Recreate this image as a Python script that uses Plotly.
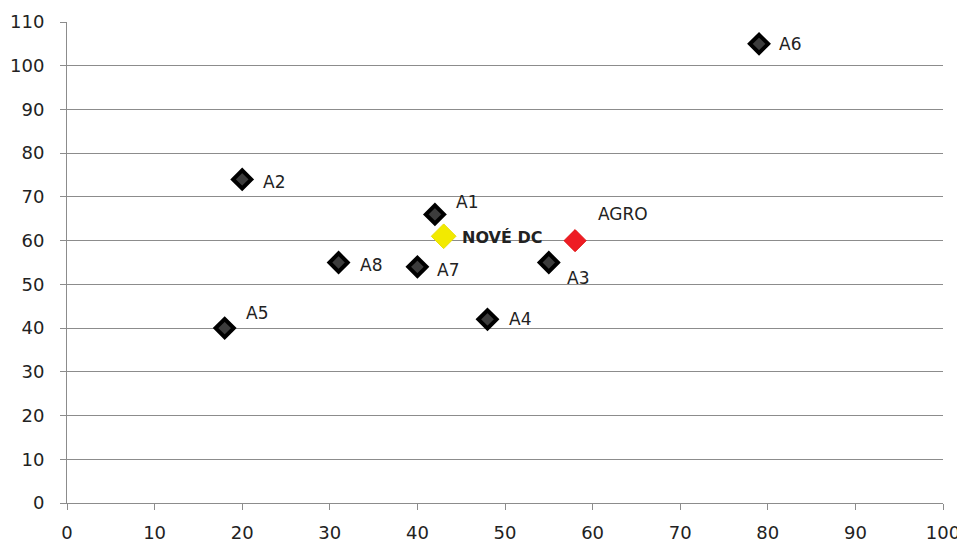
import plotly.graph_objects as go

names = ["A1", "A2", "A3", "A4", "A5", "A6", "A7", "A8"]
xs = [42, 20, 55, 48, 18, 79, 40, 31]
ys = [66, 74, 55, 42, 40, 105, 54, 55]

nove_name = "NOVÉ DC"
nove_x = [43]
nove_y = [61]

agro_name = "AGRO"
agro_x = [58]
agro_y = [60]

x_ticks = list(range(0, 101, 10))
y_ticks = list(range(0, 111, 10))

# label offsets in pixels (dx, dy downward)
offsets = {
    "A1": (19, -12), "A2": (19, 3), "A3": (16, 15), "A4": (20, 0),
    "A5": (19, -15), "A6": (18, 0), "A7": (18, 3), "A8": (19, 2),
    "NOVÉ DC": (16, 1), "AGRO": (21, -27),
}

FONT = "DejaVu Sans, sans-serif"

fig = go.Figure()
fig.add_trace(go.Scatter(
    x=xs, y=ys, mode="markers",
    marker=dict(symbol="diamond", size=14, color="#3c3c3c",
                line=dict(color="black", width=4)),
    showlegend=False, hoverinfo="skip"))
fig.add_trace(go.Scatter(
    x=nove_x, y=nove_y, mode="markers",
    marker=dict(symbol="diamond", size=19, color="#f2ea00",
                line=dict(color="#e8e000", width=1)),
    showlegend=False, hoverinfo="skip"))
fig.add_trace(go.Scatter(
    x=agro_x, y=agro_y, mode="markers",
    marker=dict(symbol="diamond", size=17, color="#ee1c24",
                line=dict(color="#e01010", width=1)),
    showlegend=False, hoverinfo="skip"))

all_labels = list(zip(names, xs, ys)) + [(nove_name, nove_x[0], nove_y[0]),
                                          (agro_name, agro_x[0], agro_y[0])]
for n, x, y in all_labels:
    dx, dy = offsets[n]
    if n == nove_name:
        txt, fs = f"<b>{n}</b>", 16
    else:
        txt, fs = n, 17
    fig.add_annotation(x=x, y=y, xref="x", yref="y", text=txt,
                       showarrow=False, xanchor="left", yanchor="middle",
                       xshift=dx, yshift=-dy,
                       font=dict(family=FONT, size=fs, color="#222222"))

common = dict(gridcolor="#8c8c8c", gridwidth=1,
              showline=True, linecolor="#8c8c8c", linewidth=1,
              ticks="outside", ticklen=6, tickcolor="#8c8c8c",
              zeroline=False,
              tickfont=dict(family=FONT, size=18, color="#222222"))

fig.update_xaxes(range=[0, 100], tickvals=x_ticks, showgrid=False,
                 ticklabelstandoff=7, **common)
fig.update_yaxes(range=[0, 110], tickvals=y_ticks, showgrid=True,
                 ticklabelstandoff=12, **common)

fig.update_layout(
    width=957, height=541,
    margin=dict(l=59, r=22, t=14, b=46, autoexpand=False),
    plot_bgcolor="white", paper_bgcolor="white",
)

fig.write_html("out.html")
